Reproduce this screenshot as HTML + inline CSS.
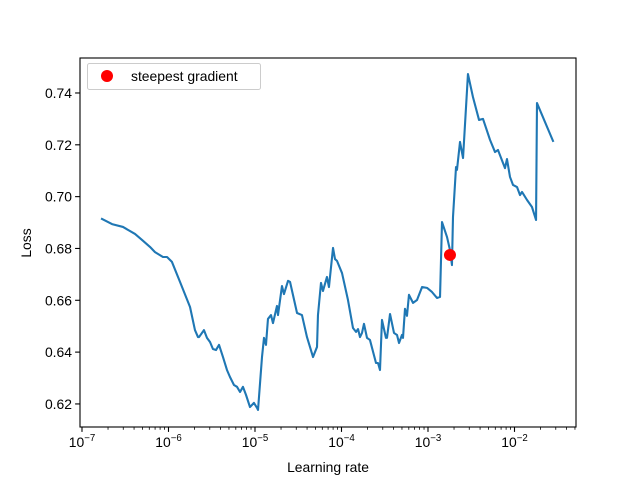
<!DOCTYPE html>
<html><head><meta charset="utf-8"><style>
body{margin:0;background:#fff}
svg{display:block;font-family:"Liberation Sans","DejaVu Sans",sans-serif}
</style></head><body>
<svg id="chart" width="640" height="480" viewBox="0 0 640 480" xmlns="http://www.w3.org/2000/svg">
<rect width="640" height="480" fill="#fff"/>
<g id="marks"></g>
<g id="axes"></g>
<rect x="80" y="58" width="496" height="369" fill="none" stroke="#000" stroke-width="1.1"/>
<text x="328" y="472" font-size="13.9" text-anchor="middle">Learning rate</text>
<text x="31" y="243" font-size="13.9" text-anchor="middle" transform="rotate(-90 31 243)">Loss</text>
<g>
<rect x="87.5" y="63.5" width="173" height="26" rx="2" fill="#fff" stroke="#ccc" stroke-width="1"/>
<circle cx="107" cy="76" r="6" fill="red"/>
<text x="131" y="81" font-size="13.9">steepest gradient</text>
</g>
</svg>
<script>
const lrExp=[-6.769,-6.653,-6.526,-6.387,-6.306,-6.214,-6.156,-6.064,-6.017,-5.960,-5.867,-5.751,-5.694,-5.659,-5.647,-5.590,-5.555,-5.520,-5.486,-5.451,-5.416,-5.370,-5.324,-5.289,-5.243,-5.208,-5.173,-5.139,-5.104,-5.058,-5.012,-4.977,-4.965,-4.919,-4.896,-4.873,-4.850,-4.815,-4.792,-4.746,-4.734,-4.688,-4.665,-4.618,-4.595,-4.514,-4.457,-4.399,-4.329,-4.283,-4.272,-4.237,-4.214,-4.168,-4.145,-4.098,-4.075,-4.052,-3.994,-3.925,-3.867,-3.832,-3.809,-3.786,-3.763,-3.740,-3.705,-3.671,-3.601,-3.578,-3.555,-3.532,-3.486,-3.474,-3.439,-3.393,-3.358,-3.335,-3.301,-3.289,-3.266,-3.243,-3.220,-3.173,-3.127,-3.069,-3.012,-2.954,-2.896,-2.861,-2.838,-2.780,-2.746,-2.723,-2.711,-2.676,-2.665,-2.630,-2.595,-2.538,-2.480,-2.410,-2.364,-2.283,-2.225,-2.191,-2.110,-2.087,-2.052,-2.017,-1.971,-1.936,-1.913,-1.855,-1.798,-1.751,-1.740,-1.555];
const lossVals=[.6914,.6894,.6883,.6856,.6833,.6806,.6786,.6767,.6767,.6748,.6671,.6574,.6485,.6458,.6458,.6485,.6455,.6439,.6412,.6408,.6428,.6381,.6331,.6304,.6273,.6266,.6246,.6266,.6235,.6188,.6204,.6185,.6177,.6381,.6455,.6428,.6528,.6543,.6512,.6578,.6543,.6655,.6624,.6675,.6671,.6551,.6543,.6458,.6381,.6420,.6543,.6667,.6636,.6690,.6651,.6802,.6759,.6752,.6705,.6601,.6493,.6478,.6489,.6458,.6474,.6509,.6455,.6447,.6358,.6358,.6331,.6524,.6455,.6455,.6547,.6474,.6466,.6435,.6466,.6455,.6567,.6540,.6621,.6590,.6601,.6651,.6648,.6632,.6609,.6613,.6902,.6844,.6794,.6736,.6921,.7114,.7103,.7211,.7149,.7473,.7384,.7296,.7300,.7219,.7172,.7180,.7110,.7145,.7076,.7045,.7037,.7006,.7018,.6987,.6960,.6910,.7361,.7215];
const markerExp=[-2.746];
const markerLoss=[0.6775];
const xTickExp=[-7,-6,-5,-4,-3,-2];
const yTicks=[0.62,0.64,0.66,0.68,0.70,0.72,0.74];
const yTickLabels=["0.62","0.64","0.66","0.68","0.70","0.72","0.74"];

const NS="http://www.w3.org/2000/svg";
const X0=80,X1=576,Y0=58,Y1=427;
const xMin=-7.023,xMax=-1.289,yMin=0.6111,yMax=0.7535;
function xs(e){return X0+(e-xMin)/(xMax-xMin)*(X1-X0);}
function ys(v){return Y1-(v-yMin)/(yMax-yMin)*(Y1-Y0);}
function mk(t,a,p){const el=document.createElementNS(NS,t);for(const k in a)el.setAttribute(k,a[k]);p.appendChild(el);return el;}
const marks=document.getElementById('marks'),axes=document.getElementById('axes');

let d=lrExp.map((e,i)=>(i?'L':'M')+xs(e).toFixed(2)+' '+ys(lossVals[i]).toFixed(2)).join(' ');
const line=mk('path',{d:d,fill:'none',stroke:'#1f77b4','stroke-width':2.1,'stroke-linejoin':'round','stroke-linecap':'square'},marks);


markerExp.forEach((e,i)=>{
  const c=mk('circle',{cx:xs(e),cy:ys(markerLoss[i]),r:6,fill:'red'},marks);
  
  
});

xTickExp.forEach(e=>{
  const x=xs(e);
  const t=mk('line',{x1:x,x2:x,y1:Y1,y2:Y1+4.9,stroke:'#000','stroke-width':1.1},axes);
  
  
  const tx=mk('text',{x:x,y:Y1+20,'font-size':'13.9','text-anchor':'middle'},axes);
  
  
  tx.appendChild(document.createTextNode('10'));
  const sp=mk('tspan',{dy:-6,'font-size':'9.7'},tx);
  sp.textContent='\u2212'+(-e);
  for(let m=2;m<10;m++){
    const me=e+Math.log10(m);
    if(me>xMax)break;
    const mx=xs(me);
    const mt=mk('line',{x1:mx,x2:mx,y1:Y1,y2:Y1+2.8,stroke:'#000','stroke-width':0.8},axes);
    
    
  }
});
yTicks.forEach((v,i)=>{
  const y=ys(v);
  const t=mk('line',{x1:X0-4.9,x2:X0,y1:y,y2:y,stroke:'#000','stroke-width':1.1},axes);
  
  
  const tx=mk('text',{x:X0-8,y:y+5,'font-size':'13.9','text-anchor':'end'},axes);
  
  
  tx.textContent=yTickLabels[i];
});
</script>
</body></html>
